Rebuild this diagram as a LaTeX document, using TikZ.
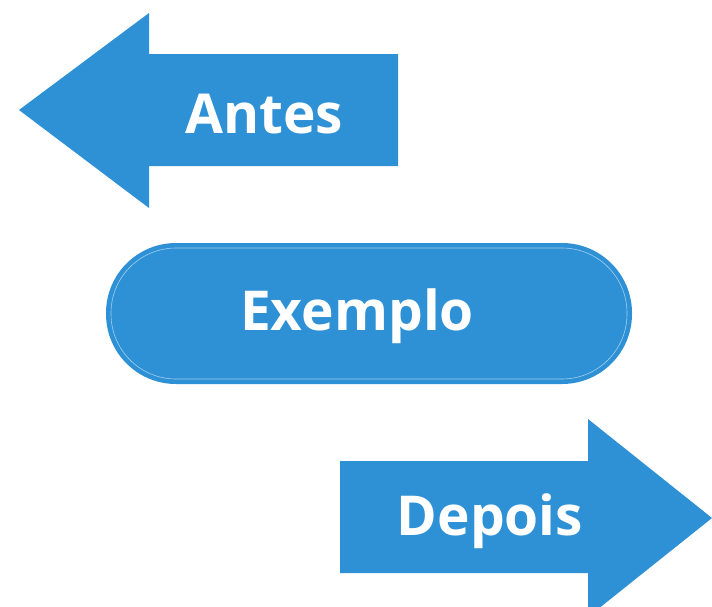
\documentclass[tikz,border=0pt]{standalone}
\usepackage{fontspec}
\setmainfont{Open Sans}
\usepackage{tikz}
\usetikzlibrary{shapes}
\usetikzlibrary{positioning}
\usetikzlibrary{calc}
\definecolor{arrowblue}{HTML}{2E91D6}
\tikzstyle{txt} = [text=white,font=\bfseries\fontsize{55}{55}\selectfont,inner sep=0pt,anchor=base]
\tikzstyle{bluefill} = [fill=arrowblue,draw=none]

\begin{document}
\begin{tikzpicture}
	[x=1pt,y=-1pt]
	\useasboundingbox (0,0) rectangle (712,606);
	
	% left arrow
	\path[bluefill] (19,110) -- (149,13) -- (149,54) -- (398,54) -- (398,166) -- (149,166) -- (149,208) -- cycle;
	% right arrow
	\path[bluefill] (712,518) -- (588,419) -- (588,461) -- (340,461) -- (340,573) -- (588,573) -- (588,617) -- cycle;
	% middle box
	\path[bluefill,rounded corners=70pt] (106,243) rectangle (632,384);
	\draw[white!55!arrowblue,line width=0.6pt,rounded corners=65pt] (111,248) rectangle (627,379);
	
	\node (antes) [txt] at (264,133) {Antes};
	\node (exemplo) [txt] at (357,330) {Exemplo};
	\node (depois) [txt] at (490,535) {Depois};
\end{tikzpicture}
\end{document}
